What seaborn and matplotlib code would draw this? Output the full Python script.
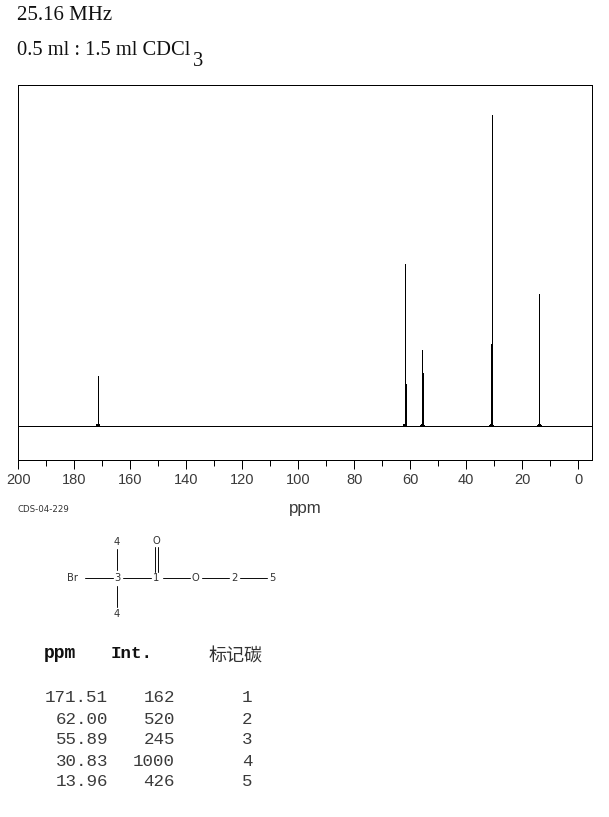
import matplotlib
matplotlib.use("Agg")
import matplotlib.pyplot as plt
import pandas as pd
import seaborn as sns

# ---- data ----
peak_ppm = [171.51, 62.00, 55.89, 30.83, 13.96]
peak_int = [162, 520, 245, 1000, 426]
shoulder_ppm = [61.65, 55.55, 31.05]
shoulder_int = [135, 170, 264]
bump_ppm = [171.51, 61.85, 55.7, 30.95, 13.96]
carbon_labels = ["1", "2", "3", "4", "5"]
ppm_text = ["171.51", "62.00", "55.89", "30.83", "13.96"]
int_text = ["162", "520", "245", "1000", "426"]
x_major = [200, 180, 160, 140, 120, 100, 80, 60, 40, 20, 0]
x_minor = [190, 170, 150, 130, 110, 90, 70, 50, 30, 10]
header_lines = ["25.16 MHz", "0.5 ml : 1.5 ml CDCl"]
atom_labels = ["Br", "3", "1", "O", "2", "5", "4", "4", "O"]

W, H = 609, 817
sns.set_theme(style="white")
plt.rcParams["font.family"] = ["Liberation Sans", "DejaVu Sans"]

# Baseline plus one vertical stick per line
sticks = sorted(list(zip(peak_ppm, peak_int)) + list(zip(shoulder_ppm, shoulder_int)), reverse=True)
rows = [{"ppm": 205.0, "intensity": 0.0, "trace": "base"}, {"ppm": -5.0, "intensity": 0.0, "trace": "base"}]
for k, (p, i) in enumerate(sticks):
    rows += [{"ppm": p, "intensity": 0.0, "trace": f"s{k}"}, {"ppm": p, "intensity": i, "trace": f"s{k}"}]
for k, p in enumerate(bump_ppm):
    rows += [{"ppm": p + 0.5, "intensity": 0.0, "trace": f"b{k}"},
             {"ppm": p, "intensity": 5.0, "trace": f"b{k}"},
             {"ppm": p - 0.5, "intensity": 0.0, "trace": f"b{k}"}]
spectrum = pd.DataFrame(rows)

fig = plt.figure(figsize=(W / 100, H / 100), dpi=100, facecolor="white")
L, R, T, B = 18, 592.3, 85, 460
ax = fig.add_axes([L / W, 1 - B / H, (R - L) / W, (B - T) / H])
sns.lineplot(data=spectrum, x="ppm", y="intensity", units="trace", color="black", lw=0.72,
             sort=False, estimator=None, ax=ax, antialiased=False)
ax.set_xlim(200.05, -5)
ax.set_ylim(-109, 1096)
ax.set_yticks([])
ax.set_xticks(x_major)
ax.set_xticks(x_minor, minor=True)
ax.tick_params(axis="x", which="major", length=6.5, width=0.72, color="black", bottom=True,
               labelsize=10.5, labelcolor="#3a3a3a", pad=2.5)
ax.tick_params(axis="x", which="minor", length=4.5, width=0.72, color="black", bottom=True)
ax.set_xlabel("")
ax.set_ylabel("")
for s in ax.spines.values():
    s.set_color("black")
    s.set_linewidth(0.72)

# pixel-coordinate overlay for annotations
ov = fig.add_axes([0, 0, 1, 1], facecolor="none")
ov.set_xlim(0, W)
ov.set_ylim(H, 0)
ov.axis("off")

serif = ["Liberation Serif", "DejaVu Serif"]
ov.text(17, 20, header_lines[0], family=serif, fontsize=15.0, color="#111111", va="baseline")
ov.text(17, 55, header_lines[1], family=serif, fontsize=14.8, color="#111111", va="baseline")
ov.text(193, 66, "3", family=serif, fontsize=14.8, color="#111111", va="baseline")

ov.text(305.5, 509, "ppm", fontsize=12.2, color="#3a3a3a", ha="center", va="center")
ov.text(18, 509, "CDS-04-229", family=["DejaVu Sans"], fontsize=6.2, color="#333333", va="center")

# structure
atom_x = [73, 117, 156, 195, 234, 272, 117, 117, 156]
atom_y = [578, 578, 578, 578, 578, 578, 542, 614, 541]
for t, x, y in zip(atom_labels, atom_x, atom_y):
    ov.text(x, y, t, family=["DejaVu Sans"], fontsize=7.2, color="#333333", ha="center", va="center")
bonds = [(85, 578, 113, 578), (123, 578, 151, 578), (163, 578, 190, 578),
         (202, 578, 229, 578), (240, 578, 267, 578), (117, 549, 117, 570),
         (117, 586, 117, 607), (154.5, 547, 154.5, 572), (157.5, 547, 157.5, 572)]
for x0, y0, x1, y1 in bonds:
    ov.plot([x0, x1], [y0, y1], color="#111111", lw=0.72)

# peak table
mono = ["Liberation Mono", "DejaVu Sans Mono"]
ov.text(44, 654, "ppm", family=mono, fontweight="bold", fontsize=13, color="#111111", va="center")
ov.text(111, 654, "Int.", family=mono, fontweight="bold", fontsize=12.6, color="#111111", va="center")
ov.text(209, 657, "标记碳", family=["Noto Sans CJK SC", "DejaVu Sans"], fontsize=13, color="#333333", va="center")
row_y = [698, 719, 740, 761, 782]
for y, a, b, c in zip(row_y, ppm_text, int_text, carbon_labels):
    ov.text(108, y, a, family=mono, fontsize=12.6, color="#3a3a3a", ha="right", va="center")
    ov.text(175, y, b, family=mono, fontsize=12.6, color="#3a3a3a", ha="right", va="center")
    ov.text(247, y, c, family=mono, fontsize=12.6, color="#3a3a3a", ha="center", va="center")

fig.savefig("out.png", dpi=100, facecolor="white")
